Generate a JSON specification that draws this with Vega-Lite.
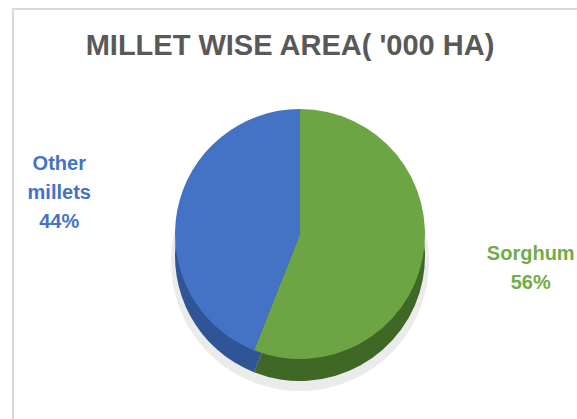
{
  "$schema": "https://vega.github.io/schema/vega-lite/v6.json",
  "autosize": "none",
  "width": 574,
  "height": 450,
  "padding": {"left": 13, "top": 9, "right": 0, "bottom": 0},
  "background": "white",
  "view": {"stroke": "#d9d9d9", "strokeWidth": 2},
  "config": {"view": {"stroke": "#d9d9d9", "strokeWidth": 2}},
  "title": {
    "text": "MILLET WISE AREA( '000 HA)",
    "anchor": "middle",
    "font": "Liberation Sans",
    "fontSize": 29,
    "fontWeight": "bold",
    "color": "#595959",
    "offset": 0,
    "baseline": "alphabetic",
    "dy": 75,
    "dx": -10
  },
  "data": {
    "values": [
      {"category": "Sorghum", "share": 56, "label": "Sorghum\n56%"},
      {"category": "Other millets", "share": 44, "label": "Other\nmillets\n44%"}
    ]
  },
  "encoding": {
    "theta": {"field": "share", "type": "quantitative", "stack": true},
    "order": {"field": "share", "type": "quantitative", "sort": "descending"}
  },
  "layer": [
    {
      "mark": {"type": "arc", "radius": 129, "yOffset": 28, "color": "#e6e6e6", "opacity": 0.8}
    },
    {
      "mark": {"type": "arc", "radius": 125, "yOffset": 22},
      "encoding": {
        "color": {
          "condition": {"test": "datum.category === 'Sorghum'", "value": "#3f6726"},
          "value": "#2f5597"
        }
      }
    },
    {
      "mark": {"type": "arc", "radius": 125},
      "encoding": {
        "color": {
          "condition": {"test": "datum.category === 'Sorghum'", "value": "#6da544"},
          "value": "#4472c4"
        }
      }
    },
    {
      "mark": {"type": "text", "radius": 240, "dx": -5, "dy": -25, "lineBreak": "\n", "font": "Liberation Sans", "fontWeight": "bold", "fontSize": 20, "lineHeight": 29, "align": "center", "baseline": "middle"},
      "encoding": {
        "text": {"field": "label", "type": "nominal"},
        "color": {
          "condition": {"test": "datum.category === 'Sorghum'", "value": "#70ad47"},
          "value": "#4472c4"
        }
      }
    }
  ]
}
